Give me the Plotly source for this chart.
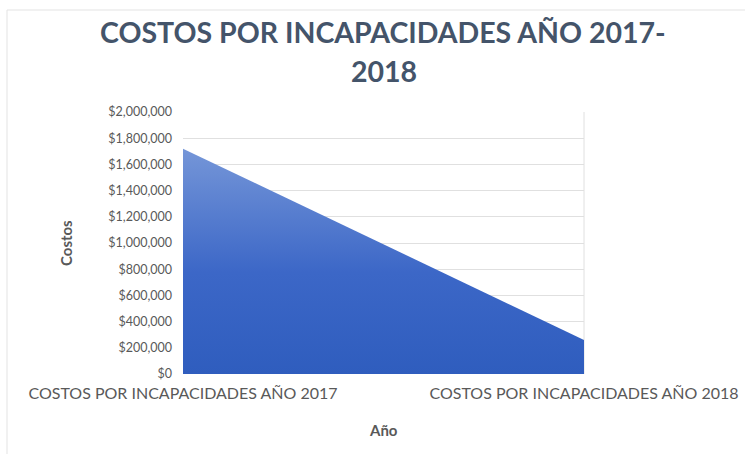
import plotly.graph_objects as go

categories = ["COSTOS POR INCAPACIDADES AÑO 2017", "COSTOS POR INCAPACIDADES AÑO 2018"]
costs = [1720000, 260000]
y_ticks = [0, 200000, 400000, 600000, 800000, 1000000, 1200000, 1400000, 1600000, 1800000, 2000000]
y_tick_labels = ["$" + format(v, ",") for v in y_ticks]
title_lines = ["COSTOS POR INCAPACIDADES AÑO 2017-", "2018"]

font_family = "Lato"
text_color = "#595959"

# plot area in pixels: x 183..584, y 112..374
L, R, T, B = 183, 584, 112, 374
def px_x(x):
    return (x - L) / (R - L)
def px_y(y):
    return (B - y) / (B - T)

fig = go.Figure()
fig.add_trace(go.Scatter(
    x=categories, y=costs,
    mode="lines",
    line=dict(width=0, color="#3a66c6"),
    fill="tozeroy",
    fillgradient=dict(
        type="vertical",
        start=0, stop=max(costs),
        colorscale=[[0, "#2f5dbe"], [0.45, "#3c67c7"], [1, "#7596d8"]],
    ),
    hoverinfo="x+y",
    showlegend=False,
))

annotations = [
    dict(text=title_lines[0], x=px_x(383), y=px_y(32), xref="paper", yref="paper",
         xanchor="center", yanchor="middle", showarrow=False,
         font=dict(family=font_family, size=28.5, color="#44546a", weight="bold")),
    dict(text=title_lines[1], x=px_x(384), y=px_y(71), xref="paper", yref="paper",
         xanchor="center", yanchor="middle", showarrow=False,
         font=dict(family=font_family, size=28.5, color="#44546a", weight="bold")),
    dict(text="Costos", x=px_x(66), y=px_y(243), xref="paper", yref="paper",
         xanchor="center", yanchor="middle", showarrow=False, textangle=-90,
         font=dict(family=font_family, size=15, color=text_color, weight="bold")),
    dict(text="Año", x=px_x(383), y=px_y(430), xref="paper", yref="paper",
         xanchor="center", yanchor="middle", showarrow=False,
         font=dict(family=font_family, size=15, color=text_color, weight="bold")),
]

fig.update_layout(
    width=745, height=454,
    margin=dict(l=L, r=745 - R, t=T, b=454 - B, autoexpand=False),
    paper_bgcolor="white", plot_bgcolor="white",
    font=dict(family=font_family, color=text_color, size=14),
    xaxis=dict(
        type="category", range=[0, 1],
        showgrid=False, zeroline=False,
        showline=False, ticks="", automargin=False,
        ticklabelstandoff=8,
        tickfont=dict(size=16, color=text_color),
    ),
    yaxis=dict(
        range=[0, 2000000],
        tickvals=y_ticks, ticktext=y_tick_labels,
        showgrid=True, gridcolor="#e0e0e0", gridwidth=1,
        zeroline=False, showline=False, ticks="", automargin=False,
        ticklabelstandoff=10,
        tickfont=dict(size=12.5, color=text_color),
    ),
    annotations=annotations,
    shapes=[dict(
        type="rect", xref="paper", yref="paper",
        x0=px_x(7), x1=px_x(900), y0=px_y(600), y1=px_y(10),
        line=dict(color="#e3e3e3", width=1), fillcolor="rgba(0,0,0,0)", layer="below",
    ),
    dict(type="line", xref="paper", yref="paper", x0=1, x1=1, y0=0, y1=1,
         line=dict(color="#e0e0e0", width=1), layer="below")],
)

fig.write_html("out.html")
